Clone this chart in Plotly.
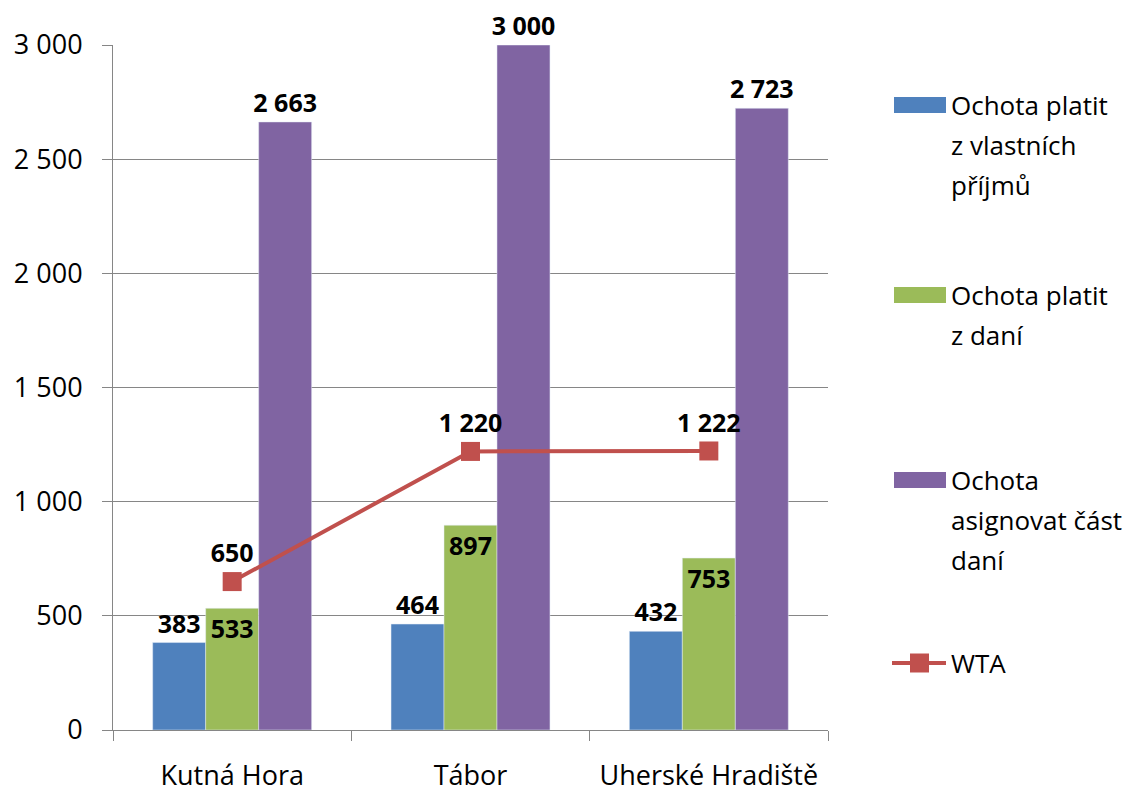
import plotly.graph_objects as go

# data
categories = ["Kutná Hora", "Tábor", "Uherské Hradiště"]
vlastni_prijmy = [383, 464, 432]
z_dani = [533, 897, 753]
asignace = [2663, 3000, 2723]
wta = [650, 1220, 1222]

series_names = ["Ochota platit z vlastních příjmů", "Ochota platit z daní",
                "Ochota asignovat část daní", "WTA"]
legend_lines = [["Ochota platit", "z vlastních", "příjmů"],
                ["Ochota platit", "z daní"],
                ["Ochota", "asignovat část", "daní"],
                ["WTA"]]

BLUE, GREEN, PURPLE, RED = "#4F81BD", "#9BBB59", "#8064A2", "#C0504D"
GRID = "#868686"
FONT = "Open Sans"

# page body has an 8px margin, so the figure is a bit smaller than the window
OFF = 8
W, H = 1135 - OFF, 794 - OFF
L, R, T, B = 113 - OFF, 307, 45 - OFF, 64
label_font = dict(family=FONT, size=25, color="black", weight="bold")

fig = go.Figure()
fig.add_bar(x=categories, y=vlastni_prijmy, name=series_names[0], marker_color=BLUE,
            texttemplate="%{y:,}", textposition="outside", textfont=label_font,
            cliponaxis=False, constraintext="none")
fig.add_bar(x=categories, y=z_dani, name=series_names[1], marker_color=GREEN,
            texttemplate="%{y:,}", textposition="inside", insidetextanchor="end",
            insidetextfont=label_font, cliponaxis=False, constraintext="none")
fig.add_bar(x=categories, y=asignace, name=series_names[2], marker_color=PURPLE,
            texttemplate="%{y:,}", textposition="outside", textfont=label_font,
            cliponaxis=False, constraintext="none")
fig.add_scatter(x=categories, y=wta, name=series_names[3], mode="lines+markers+text",
                line=dict(color=RED, width=4),
                marker=dict(symbol="square", size=19, color=RED),
                texttemplate="%{y:,}", textposition="top center", textfont=label_font,
                cliponaxis=False)

fig.update_layout(
    width=W, height=H,
    margin=dict(l=L, r=R, t=T, b=B),
    plot_bgcolor="white", paper_bgcolor="white",
    barmode="group", bargap=0.333, bargroupgap=0,
    showlegend=False,
    separators=", ",
    font=dict(family=FONT, size=27, color="black"),
)
fig.update_yaxes(range=[0, 3000], dtick=500, tickformat=",", automargin=False,
                 showgrid=True, gridcolor=GRID, gridwidth=1, zeroline=False,
                 showline=True, linecolor=GRID, linewidth=1,
                 ticks="outside", ticklen=10, tickcolor=GRID, ticklabelstandoff=14)
fig.update_xaxes(showline=True, linecolor=GRID, linewidth=1, automargin=False,
                 ticks="outside", tickson="boundaries", ticklen=10, tickcolor=GRID,
                 ticklabelstandoff=22)

# hand-drawn legend on the right (positions given in window pixels)
pw, ph = W - L - R, H - T - B
def px_x(x):
    return (x - OFF - L) / pw
def px_y(y):
    return (H - B - (y - OFF)) / ph

swatch_y = [105, 295, 480, 663]
colors = [BLUE, GREEN, PURPLE, RED]
for i, (yc, col) in enumerate(zip(swatch_y, colors)):
    if i < 3:
        fig.add_shape(type="rect", xref="paper", yref="paper",
                      x0=px_x(894), x1=px_x(946), y0=px_y(yc + 8), y1=px_y(yc - 8),
                      fillcolor=col, line_width=0)
    else:
        fig.add_shape(type="line", xref="paper", yref="paper",
                      x0=px_x(892), x1=px_x(946), y0=px_y(yc), y1=px_y(yc),
                      line=dict(color=col, width=4))
        fig.add_shape(type="rect", xref="paper", yref="paper",
                      x0=px_x(910), x1=px_x(929), y0=px_y(yc + 9.5), y1=px_y(yc - 9.5),
                      fillcolor=col, line_width=0)
    for j, line in enumerate(legend_lines[i]):
        fig.add_annotation(xref="paper", yref="paper", x=px_x(949), y=px_y(yc + 40 * j),
                           xanchor="left", yanchor="middle", text=line, showarrow=False,
                           font=dict(family=FONT, size=26, color="black"))

fig.write_html("out.html")
